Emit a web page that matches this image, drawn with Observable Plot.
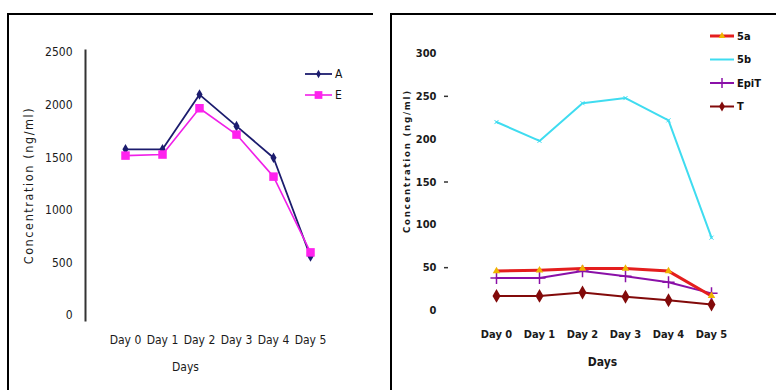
<!DOCTYPE html>
<html>
<head>
<meta charset="utf-8">
<script src="https://cdn.jsdelivr.net/npm/d3@7"></script>
<script src="https://cdn.jsdelivr.net/npm/@observablehq/plot@0.6"></script>
<style>
  html, body { margin: 0; padding: 0; background: #fff; }
  #root { position: relative; width: 776px; height: 390px; overflow: hidden; background: #fff; }
  .frame { position: absolute; border-top: 2px solid #000; border-left: 2px solid #000; box-sizing: border-box; }
  .chart { position: absolute; }
  .legend { position: absolute; }
</style>
</head>
<body>
<div id="root">
  <div class="frame" style="left:7px;top:13px;width:366px;height:380px;"></div>
  <div class="frame" style="left:390px;top:13px;width:390px;height:380px;"></div>
  <div class="chart" id="left" style="left:8px;top:14px;"></div>
  <div class="chart" id="right" style="left:391px;top:14px;"></div>
  <svg class="legend" id="legL" style="left:300px;top:60px;" width="60" height="50"></svg>
  <svg class="legend" id="legR" style="left:705px;top:24px;" width="71" height="95"></svg>
</div>
<script>
// ---- data ----
const days = ["Day 0", "Day 1", "Day 2", "Day 3", "Day 4", "Day 5"];
const seriesA = [1580, 1580, 2100, 1800, 1500, 560];
const seriesE = [1520, 1530, 1970, 1720, 1320, 600];
const series5a = [46, 47, 49, 49, 46, 17];
const series5b = [220, 198, 242, 248, 222, 85];
const seriesEpiT = [38, 38, 46, 40, 33, 20];
const seriesT = [17, 17, 21, 16, 12, 7];
const yTicksLeft = [0, 500, 1000, 1500, 2000, 2500];
const yTicksRight = [0, 50, 100, 150, 200, 250, 300];
const yTickMarksRight = [50, 150, 250];

const rows = (vals) => days.map((d, i) => ({day: d, value: vals[i]}));
const font = "'Liberation Sans Narrow', 'DejaVu Sans Condensed', 'Liberation Sans', Arial, sans-serif";

// ---- left chart ----
const left = Plot.plot({
  width: 365, height: 376,
  marginLeft: 77, marginTop: 36, marginBottom: 70, marginRight: 20,
  x: {type: "point", domain: days, range: [98, 321]},
  y: {domain: [0, 2500], range: [301, 38]},
  style: {fontFamily: font, fontSize: "12px", color: "#1a1a1a", background: "transparent", overflow: "visible"},
  marks: [
    Plot.frame({anchor: "left", stroke: "#333", strokeWidth: 2}),
    Plot.axisY({ticks: yTicksLeft, tickSize: 0, tickPadding: 13, label: null, tickFormat: d => String(d)}),
    Plot.axisX({tickSize: 0, tickPadding: 15, label: null}),
    Plot.text(["Days"], {frameAnchor: "bottom", text: d => d, dx: -34, dy: 50, fontSize: 12}),
    Plot.text(["Concentration (ng/ml)"], {frameAnchor: "left", textAnchor: "middle", text: d => d, rotate: -90, dx: -57, fontSize: 12.5}),
    Plot.line(rows(seriesA), {x: "day", y: "value", stroke: "#1c1c6e", strokeWidth: 1.8}),
    Plot.dot(rows(seriesA), {x: "day", y: "value", symbol: "diamond", r: 3.2, fill: "#1c1c6e"}),
    Plot.line(rows(seriesE), {x: "day", y: "value", stroke: "#f020e8", strokeWidth: 1.6}),
    Plot.dot(rows(seriesE), {x: "day", y: "value", symbol: "square", r: 4.8, fill: "#ff22ee"})
  ]
});
document.getElementById("left").appendChild(left);
left.querySelectorAll("text").forEach(t => { if (t.textContent === "Concentration (ng/ml)") t.style.letterSpacing = "1.6px"; });

// ---- right chart ----
const right = Plot.plot({
  width: 385, height: 376,
  marginLeft: 57, marginTop: 39, marginBottom: 80, marginRight: 20,
  x: {type: "point", domain: days, range: [83, 342]},
  y: {domain: [0, 300], range: [296, 39]},
  style: {fontFamily: font, fontSize: "11px", fontWeight: "bold", color: "#1a1a1a", background: "transparent", overflow: "visible"},
  marks: [
    Plot.axisY({ticks: yTicksRight, tickSize: 0, tickPadding: 12, label: null, tickFormat: d => String(d)}),
    Plot.axisY({ticks: yTickMarksRight, tickSize: 4, tickPadding: 0, label: null, tickFormat: () => "", stroke: "#333", strokeWidth: 1.5}),
    Plot.axisX({tickSize: 0, tickPadding: 20, label: null}),
    Plot.text(["Days"], {frameAnchor: "bottom", text: d => d, dx: 0, dy: 55, fontSize: 12}),
    Plot.text(["Concentration (ng/ml)"], {frameAnchor: "left", textAnchor: "middle", text: d => d, rotate: -90, dx: -42, dy: -21, fontSize: 9.5}),
    Plot.line(rows(series5b), {x: "day", y: "value", stroke: "#3fdcf0", strokeWidth: 2}),
    Plot.dot(rows(series5b), {x: "day", y: "value", symbol: "times", r: 2, stroke: "#3fdcf0", strokeWidth: 1}),
    Plot.line(rows(seriesT), {x: "day", y: "value", stroke: "#820a0a", strokeWidth: 2}),
    Plot.dot(rows(seriesT), {x: "day", y: "value", symbol: "diamond", r: 4.2, fill: "#820a0a"}),
    Plot.line(rows(seriesEpiT), {x: "day", y: "value", stroke: "#8a10a8", strokeWidth: 2}),
    Plot.dot(rows(seriesEpiT), {x: "day", y: "value", symbol: "plus", r: 4, stroke: "#8a10a8", strokeWidth: 1.5}),
    Plot.line(rows(series5a), {x: "day", y: "value", stroke: "#e41e1e", strokeWidth: 3}),
    Plot.dot(rows(series5a), {x: "day", y: "value", symbol: "triangle", r: 2.8, fill: "#f0b400"})
  ]
});
document.getElementById("right").appendChild(right);
right.querySelectorAll("text").forEach(t => { if (t.textContent === "Concentration (ng/ml)") t.style.letterSpacing = "1.8px"; });

// ---- legends ----
function legend(id, items, lineLen, rowGap, y0, fs, bold) {
  const svg = d3.select("#" + id);
  items.forEach((it, i) => {
    const y = y0 + i * rowGap;
    const g = svg.append("g").attr("transform", `translate(0,${y})`);
    g.append("line").attr("x1", 5).attr("x2", 5 + lineLen).attr("y1", 0).attr("y2", 0)
      .attr("stroke", it.color).attr("stroke-width", it.sw);
    const cx = 5 + lineLen / 2;
    if (it.symbol) {
      const sym = d3.symbol().type(it.symbol).size(it.size);
      g.append("path").attr("d", sym()).attr("transform", `translate(${cx},0)`)
        .attr("fill", it.fill || "none").attr("stroke", it.stroke || "none").attr("stroke-width", 1.5);
    }
    if (it.plus) {
      g.append("path").attr("d", `M${cx},-5V5M${cx - 5},0H${cx + 5}`)
        .attr("stroke", it.color).attr("stroke-width", 1.5);
    }
    g.append("text").attr("x", 8 + lineLen).attr("y", 0).attr("dy", "0.35em")
      .attr("font-family", font).attr("font-size", fs).attr("font-weight", bold ? "bold" : "normal")
      .attr("fill", "#111").text(it.label);
  });
}
legend("legL", [
  {label: "A", color: "#1c1c6e", sw: 1.8, symbol: d3.symbolDiamond, size: 20, fill: "#1c1c6e"},
  {label: "E", color: "#f020e8", sw: 1.6, symbol: d3.symbolSquare, size: 60, fill: "#ff22ee"}
], 27, 21, 14, 12, false);
legend("legR", [
  {label: "5a", color: "#e41e1e", sw: 3, symbol: d3.symbolTriangle, size: 20, fill: "#f0b400"},
  {label: "5b", color: "#3fdcf0", sw: 2},
  {label: "EpiT", color: "#8a10a8", sw: 2, plus: true},
  {label: "T", color: "#820a0a", sw: 2, symbol: d3.symbolDiamond, size: 30, fill: "#820a0a"}
], 24, 23.5, 12, 11, true);
</script>
</body>
</html>
